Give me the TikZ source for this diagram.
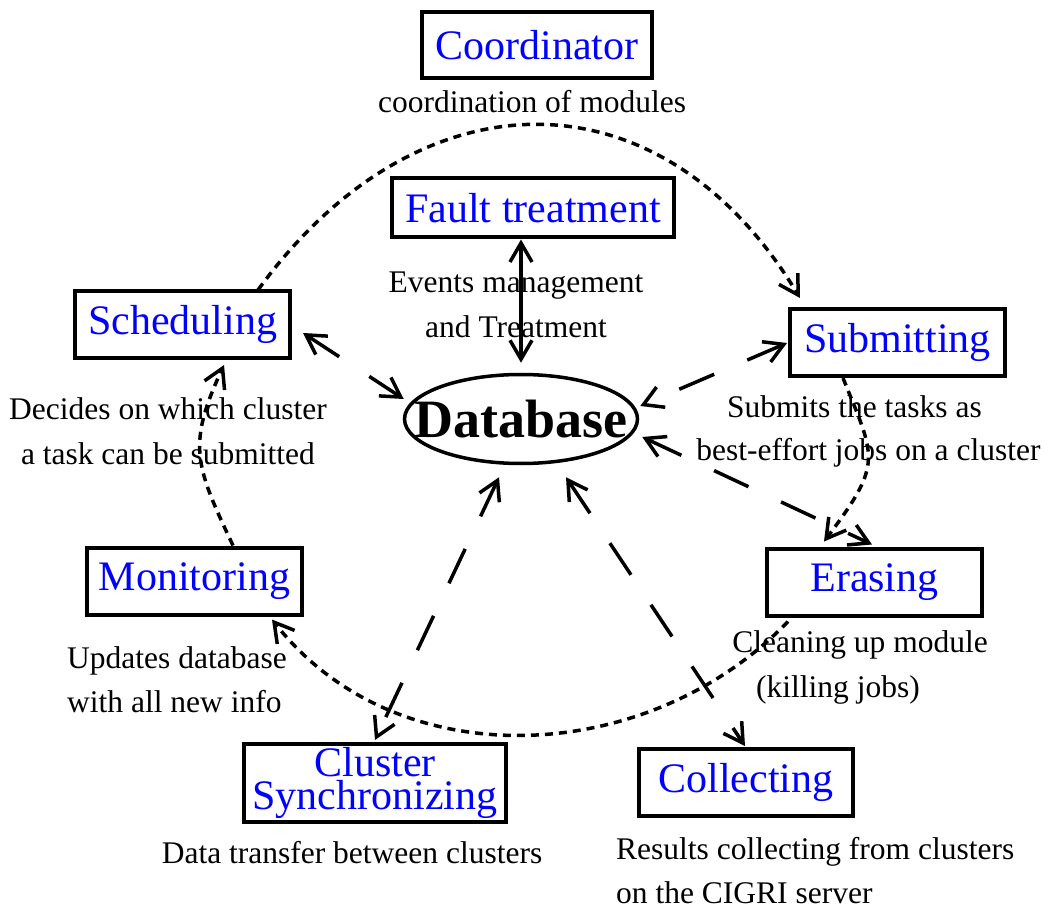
\documentclass[tikz,border=0pt]{standalone}
\usepackage{fontspec}
\setmainfont{Liberation Serif}
\usetikzlibrary{arrows.meta,calc,shapes.geometric}
\begin{document}
\begin{tikzpicture}[x=1pt,y=-1pt,
  >={Straight Barb[length=19pt,width=22pt]},
  modbox/.style={draw,line width=4pt,inner sep=0pt,text=blue,font=\fontsize{42}{33}\selectfont,minimum width=215pt,minimum height=67pt,align=center},
  desc/.style={inner sep=0pt,font=\fontsize{31.5}{44.5}\selectfont,align=center},
  solidlink/.style={line width=3.5pt,<->},
  link/.style={line width=3.5pt,dash pattern=on 38pt off 36pt,<->},
  ring/.style={line width=3.5pt,dash pattern=on 8pt off 6pt,->},
]
\useasboundingbox (0,0) rectangle (1045,909);

\node[modbox,minimum width=230pt,minimum height=66pt] (coord) at (537,45) {Coordinator};
\node[desc] (coordd) at (532,102) {coordination of modules};
\node[modbox,minimum width=282pt,minimum height=59pt] (fault) at (533,208) {Fault treatment};
\node[desc] (faultd) at (516,305) {Events management\\and Treatment};
\node[draw,ellipse,line width=3.5pt,minimum width=233pt,minimum height=89pt,inner sep=0pt] (db) at (521,419) {};
\node[inner sep=0pt,font=\bfseries\fontsize{54}{58}\selectfont] (dbtext) at (db.center) {Database};
\node[modbox] (sched) at (182.5,324.5) {Scheduling};
\node[desc] (schedd) at (168,431) {Decides on which cluster\\a task can be submitted};
\node[modbox] (submit) at (897.5,342.5) {Submitting};
\node[desc] (submitd1) at (854.5,407) {Submits the tasks as};
\node[desc] (submitd2) at (868.5,453) {best-effort jobs on a cluster};
\node[modbox] (erase) at (874.5,582) {Erasing};
\node[desc] (erased1) at (860,645) {Cleaning up module};
\node[desc] (erased2) at (838,690) {(killing jobs)};
\node[modbox] (monitor) at (194.5,581) {Monitoring};
\node[desc,anchor=west,align=left] (monitord) at (67,679.5) {Updates database\\with all new info};
\node[modbox,minimum width=262pt,minimum height=78pt] (cluster) at (375,783) {Cluster\\Synchronizing};
\node[desc] (clusterd) at (352,853) {Data transfer between clusters};
\node[modbox,minimum width=214pt] (collect) at (746,782.5) {Collecting};
\node[desc,anchor=west,align=left] (collectd) at (616,870.5) {Results collecting from clusters\\on the CIGRI server};

% connectors to the database
\draw[solidlink,shorten >=10pt] (fault.south -| db.north) -- (db.north);
\draw[link] ($(sched.east)+(11,8.5)$) -- ($(db.west)+(1,-20)$);
\draw[link] ($(submit.west)+(-1,0.5)$) -- ($(db.east)+(1,-13)$);
\draw[link] ($(db.east)+(3,18)$) -- ($(erase.north)+(-2.5,-2)$);
\draw[link] ($(db.south)+(-22,12)$) -- ($(cluster.north)+(0,-2)$);
\draw[link] ($(db.south)+(45,12)$) -- ($(collect.north)+(-1,-1)$);

% coordination ring
\draw[ring] ($(sched.north)+(75.5,1)$) .. controls (417,71) and (660,66) .. ($(submit.north)+(-97.5,-9)$);
\draw[ring] ($(submit.south)+(-54.5,0)$) .. controls (875,458) and (884,462) .. ($(erase.north)+(-50.5,-5)$);
\draw[ring] ($(erase.south)+(-86.5,4)$) .. controls (649,766) and (398,780) .. ($(monitor.south)+(77.5,3)$);
\draw[ring] ($(monitor.north)+(38.5,0)$) .. controls (195,465) and (187,445) .. ($(sched.south)+(41.5,5)$);
\end{tikzpicture}
\end{document}
